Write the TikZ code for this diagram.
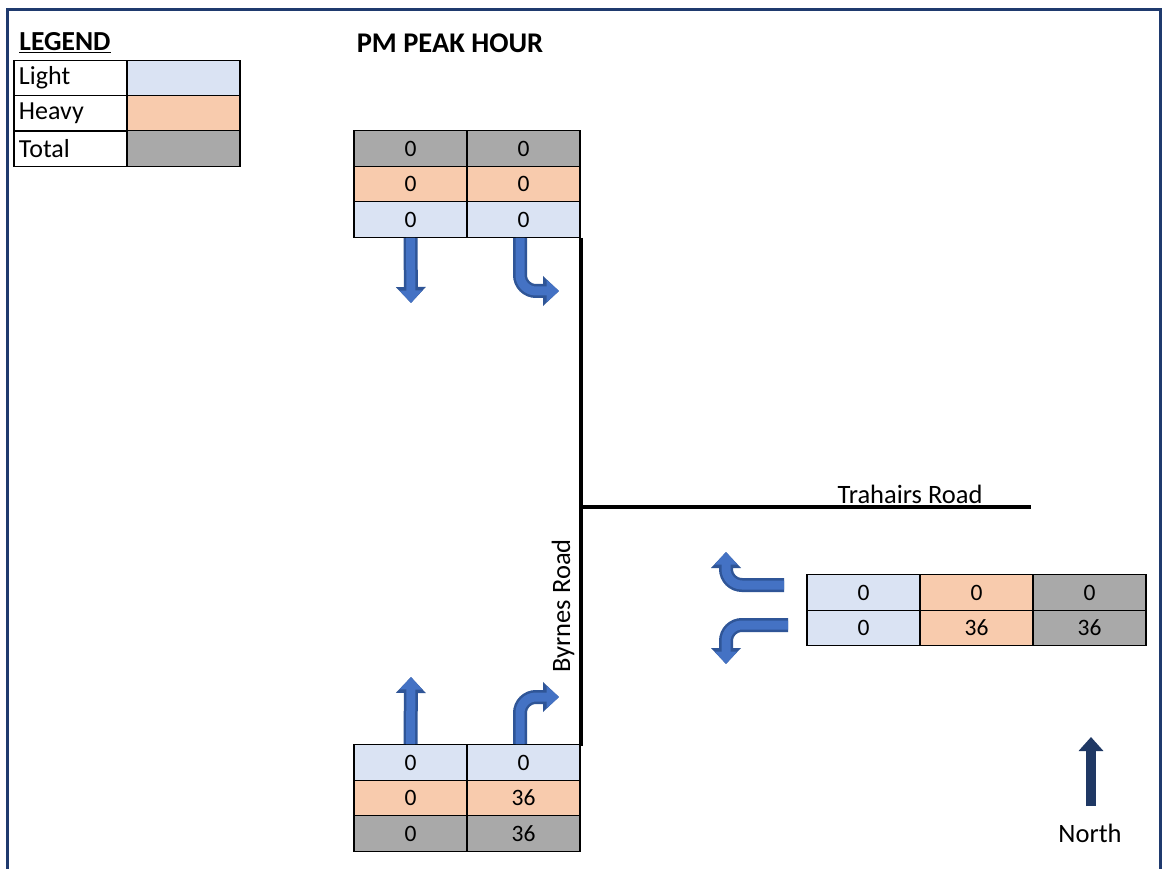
\documentclass[tikz,border=0pt]{standalone}
\usepackage{fontspec}
\setmainfont{Carlito}
\usetikzlibrary{arrows.meta}
\definecolor{frameblue}{HTML}{1F3A6E}
\definecolor{lightc}{HTML}{DAE3F3}
\definecolor{heavyc}{HTML}{F8CBAD}
\definecolor{totalc}{HTML}{A9A9A9}
\definecolor{arrowfill}{HTML}{4472C4}
\definecolor{arrowedge}{HTML}{2F5597}
\definecolor{northc}{HTML}{1F3864}
\tikzset{
  cell/.style={draw=black, line width=1.2pt, minimum width=113pt, minimum height=35.5pt, inner sep=0pt, anchor=center, font=\fontsize{23.5}{27}\selectfont},
  lcell/.style={cell, text width=103pt, align=left, font=\fontsize{26}{30}\selectfont},
  road/.style={line width=3.5pt, black},
  lbl/.style={font=\fontsize{26.5}{30}\selectfont, inner sep=0pt},
  fatout/.style={line width=14pt, arrowedge, -{Triangle[length=16pt,width=29pt]}},
  fatin/.style={line width=9pt, arrowfill, -{Triangle[length=12.5pt,width=22pt]}},
}
\begin{document}
\begin{tikzpicture}[x=1pt,y=-1pt]
\useasboundingbox (0,0) rectangle (1163,869);
\fill[white] (0,0) rectangle (1163,869);
% frame
\draw[frameblue, line width=3pt] (7,880) -- (7,10) -- (1160,10) -- (1160,880);

% legend
\node[lbl, font=\fontsize{27.5}{30}\selectfont\bfseries] (legtitle) at (65,43) {\underline{LEGEND}};
\node[lcell] (lg1) at (70.5,78) {Light};
\node[cell, fill=lightc] (lg1c) at (183.5,78) {};
\node[lcell] (lg2) at (70.5,113.5) {Heavy};
\node[cell, fill=heavyc] (lg2c) at (183.5,113.5) {};
\node[lcell] (lg3) at (70.5,148.5) {Total};
\node[cell, fill=totalc] (lg3c) at (183.5,148.5) {};

\node[lbl, font=\fontsize{28.5}{30}\selectfont\bfseries] (title) at (450,43) {PM PEAK HOUR};

% top table
\node[cell, fill=totalc] (t11) at (410.5,148.5) {0};
\node[cell, fill=totalc] (t12) at (523.5,148.5) {0};
\node[cell, fill=heavyc] (t21) at (410.5,184) {0};
\node[cell, fill=heavyc] (t22) at (523.5,184) {0};
\node[cell, fill=lightc] (t31) at (410.5,219.5) {0};
\node[cell, fill=lightc] (t32) at (523.5,219.5) {0};

% bottom table
\node[cell, fill=lightc] (b11) at (410.5,762.5) {0};
\node[cell, fill=lightc] (b12) at (523.5,762.5) {0};
\node[cell, fill=heavyc] (b21) at (410.5,798) {0};
\node[cell, fill=heavyc] (b22) at (523.5,798) {36};
\node[cell, fill=totalc] (b31) at (410.5,833.5) {0};
\node[cell, fill=totalc] (b32) at (523.5,833.5) {36};

% right table
\node[cell, fill=lightc] (r11) at (863.5,592.5) {0};
\node[cell, fill=heavyc] (r12) at (976.5,592.5) {0};
\node[cell, fill=totalc] (r13) at (1089.5,592.5) {0};
\node[cell, fill=lightc] (r21) at (863.5,628) {0};
\node[cell, fill=heavyc] (r22) at (976.5,628) {36};
\node[cell, fill=totalc] (r23) at (1089.5,628) {36};

% roads
\coordinate (byN) at (581,238);
\coordinate (byS) at (581,746);
\coordinate (jn) at (581,507);
\coordinate (trE) at (1031,507);
\draw[road] (byN) -- (byS);
\draw[road] (jn) -- (trE);
\node[lbl, rotate=90] (byrnes) at (563,606) {Byrnes Road};
\node[lbl] (trahairs) at (910,494) {Trahairs Road};

% arrow end coordinates
\coordinate (a1) at (411,303);
\coordinate (a2) at (559,291);
\coordinate (a3) at (411,677);
\coordinate (a4) at (559,697);
\coordinate (a5s) at (784,585);
\coordinate (a5) at (726,552);
\coordinate (a6s) at (788,625);
\coordinate (a6) at (726,664);

% movement arrows
\foreach \s in {fatout,fatin}{
  \draw[\s] (t31.south) -- (a1);
  \draw[\s, rounded corners=16pt] (t32.south -| 520,0) |- (a2);
  \draw[\s] (b11.north) -- (a3);
  \draw[\s, rounded corners=16pt] (b12.north -| 520,0) |- (a4);
  \draw[\s, rounded corners=16pt] (a5s) -| (a5);
  \draw[\s, rounded corners=16pt] (a6s) -| (a6);
}

% north
\coordinate (nS) at (1091,806);
\coordinate (nN) at (1091,737);
\draw[northc, line width=10pt, -{Triangle[length=14pt,width=24pt]}] (nS) -- (nN);
\node[lbl] (north) at (1090,833) {North};
\end{tikzpicture}
\end{document}
